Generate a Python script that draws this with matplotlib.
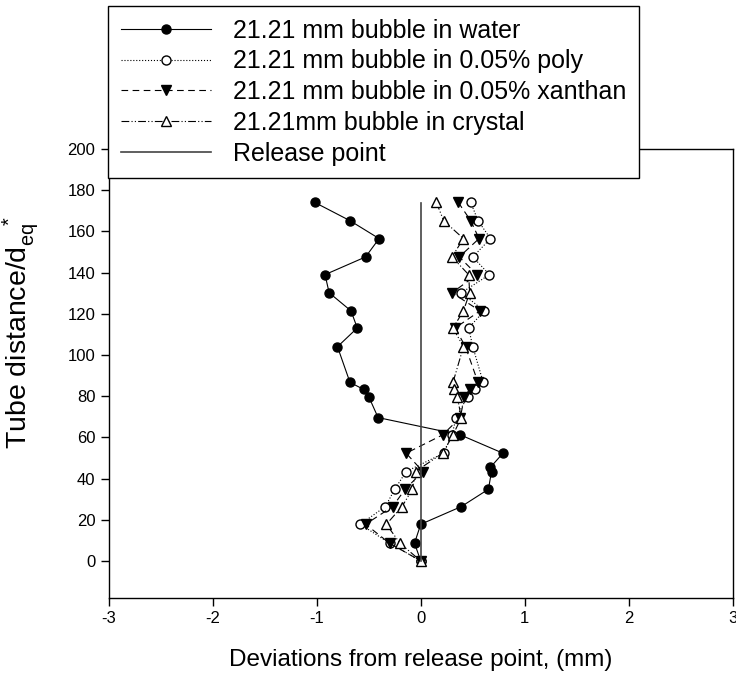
import matplotlib
matplotlib.use("Agg")
import matplotlib.pyplot as plt

plt.rcParams["font.family"] = ["Liberation Sans", "DejaVu Sans"]
plt.rcParams["mathtext.fontset"] = "custom"
plt.rcParams["mathtext.rm"] = "Liberation Sans"
plt.rcParams["mathtext.it"] = "Liberation Sans"
plt.rcParams["axes.unicode_minus"] = False

# tube distance / d_eq for the three polymer/crystal runs
dist = [174.1, 165.2, 156.5, 147.6, 139.0, 130.2, 121.4, 113.1, 104.0, 86.7,
        83.3, 79.8, 69.6, 61.2, 52.3, 43.4, 34.8, 26.4, 17.8, 8.6, 0.0]

water_dist = [174.1, 165.2, 156.5, 147.6, 139.0, 130.2, 121.4, 113.1, 104.0, 86.7,
              83.3, 79.8, 69.6, 61.2, 52.3, 45.5, 43.4, 34.8, 26.4, 17.8, 8.6, 0.0]
water = [-1.02, -0.68, -0.40, -0.53, -0.92, -0.88, -0.67, -0.61, -0.80, -0.68,
         -0.55, -0.50, -0.41, 0.38, 0.79, 0.67, 0.68, 0.65, 0.39, 0.0, -0.06, 0.0]

poly = [0.48, 0.55, 0.67, 0.50, 0.66, 0.39, 0.61, 0.46, 0.50, 0.60,
        0.52, 0.45, 0.34, 0.30, 0.22, -0.14, -0.25, -0.34, -0.58, -0.30, 0.0]
xanthan = [0.36, 0.48, 0.56, 0.37, 0.54, 0.30, 0.57, 0.33, 0.43, 0.55,
           0.47, 0.42, 0.38, 0.21, -0.14, 0.02, -0.15, -0.27, -0.53, -0.30, 0.0]
crystal = [0.15, 0.22, 0.41, 0.30, 0.46, 0.47, 0.41, 0.31, 0.41, 0.31,
           0.32, 0.35, 0.39, 0.31, 0.21, -0.05, -0.08, -0.18, -0.33, -0.20, 0.0]

release_x = [0, 0]
release_y = [0, 174]

fig = plt.figure(figsize=(7.36, 6.78), dpi=100)
ax = fig.add_axes([108.5/736, 1 - 598/678, 624.5/736, 449/678])

ms = 6.5
lw = 0.8
ax.plot(water, water_dist, "-", color="black", lw=lw, marker="o", ms=ms,
        mfc="black", mec="black", label="21.21 mm bubble in water")
ax.plot(poly, dist, ":", color="black", lw=lw, marker="o", ms=ms,
        mfc="white", mec="black", label="21.21 mm bubble in 0.05% poly")
ax.plot(xanthan, dist, color="black", lw=lw, ls=(0, (6, 4)), marker="v", ms=ms+1,
        mfc="black", mec="black", label="21.21 mm bubble in 0.05% xanthan")
ax.plot(crystal, dist, color="black", lw=lw, ls=(0, (7, 2, 1, 2, 1, 2)), marker="^",
        ms=ms+1, mfc="white", mec="black", label="21.21mm bubble in crystal")
ax.plot(release_x, release_y, "-", color="#444444", lw=1.2, label="Release point")

ax.set_xlim(-3, 3)
ax.set_ylim(-18, 200)
ax.set_xticks(range(-3, 4))
ax.set_yticks(range(0, 201, 20))
ax.tick_params(direction="out", length=6, width=1, labelsize=12)
for s in ax.spines.values():
    s.set_linewidth(1)

ax.set_xlabel("Deviations from release point, (mm)", fontsize=17.5)
ax.set_ylabel(r"Tube distance/d$_{eq}^{\ \ \ *}$", fontsize=20.5)
ax.xaxis.set_label_coords(0.5, -0.113)
ax.yaxis.set_label_coords(-0.108, 0.59)

leg = ax.legend(loc="upper left", bbox_to_anchor=(108/736, 1 - 6/678),
                bbox_transform=fig.transFigure, borderaxespad=0, fontsize=18,
                frameon=True, fancybox=False, framealpha=1, edgecolor="black",
                handlelength=3.6, handletextpad=0.9, labelspacing=0.27,
                borderpad=0.5)
leg.get_frame().set_linewidth(1)

fig.savefig("out.png", dpi=100)
